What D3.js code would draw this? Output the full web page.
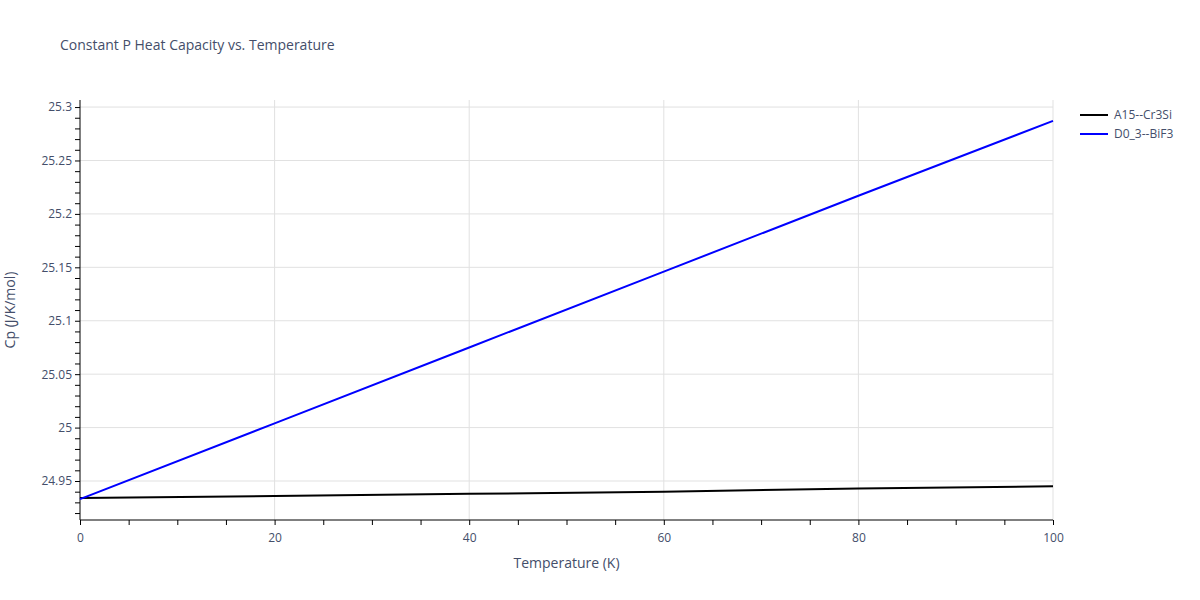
<!DOCTYPE html>
<meta charset="utf-8">
<body style="margin:0">
<svg width="1200" height="600"></svg>
<script src="https://cdnjs.cloudflare.com/ajax/libs/d3/7.8.5/d3.min.js"></script>
<script>
var temps = [0, 20, 40, 60, 80, 100];
var cr3si = [24.934, 24.936, 24.938, 24.940, 24.943, 24.945];
var bif3 = [24.933, 25.004, 25.075, 25.146, 25.217, 25.287];
var seriesNames = ["A15--Cr3Si", "D0_3--BiF3"];
var seriesColors = ["#000000", "#0000ff"];

var svg = d3.select("svg").style("font-family", "'Open Sans', sans-serif");
var m = {l: 80, r: 1053, t: 100, b: 520};
var x = d3.scaleLinear().domain([0, 100]).range([m.l, m.r]);
var y = d3.scaleLinear().domain([24.9135, 25.3066]).range([m.b, m.t]);
var txt = "#444e6a";

svg.append("rect").attr("width", 1200).attr("height", 600).attr("fill", "white");

// grid
svg.append("g").selectAll("line").data(d3.range(20, 101, 20)).enter().append("line")
    .attr("x1", d => x(d)).attr("x2", d => x(d)).attr("y1", m.t).attr("y2", m.b)
    .attr("stroke", "#e1e1e1");
var yt = [24.95, 25, 25.05, 25.1, 25.15, 25.2, 25.25, 25.3];
svg.append("g").selectAll("line").data(yt).enter().append("line")
    .attr("x1", m.l).attr("x2", m.r).attr("y1", d => y(d)).attr("y2", d => y(d))
    .attr("stroke", "#e1e1e1");

// axes
var xa = svg.append("g").attr("transform", `translate(0,${m.b})`)
    .call(d3.axisBottom(x).tickValues(d3.range(0, 101, 5)).tickSize(5).tickFormat(d => d % 20 ? "" : d));
var ya = svg.append("g").attr("transform", `translate(${m.l},0)`)
    .call(d3.axisLeft(y).tickValues(d3.range(24.92, 25.305, 0.01)).tickSize(5)
        .tickFormat(d => { var r = Math.round(d * 100); return r % 5 ? "" : d3.format("")(+d.toFixed(2)); }));
[xa, ya].forEach(a => {
    a.selectAll("path").attr("stroke", "#000");
    a.selectAll("line").attr("stroke", "#000");
    a.selectAll("text").attr("fill", txt).attr("font-size", 12).attr("font-family", "'Open Sans', sans-serif");
});
xa.selectAll("text").attr("dy", "1.2em");
xa.select("path").attr("d", `M${m.l},0H${m.r}`);
ya.select("path").attr("d", `M0,${m.b}V${m.t}`);

// lines
var line = d3.line().x((d, i) => x(temps[i])).y(d => y(d));
[cr3si, bif3].forEach((s, i) => {
    svg.append("path").attr("d", line(s)).attr("fill", "none")
        .attr("stroke", seriesColors[i]).attr("stroke-width", 2);
});

// titles
svg.append("text").attr("x", 60).attr("y", 50).text("Constant P Heat Capacity vs. Temperature")
    .attr("fill", txt).attr("font-size", 14);
svg.append("text").attr("x", (m.l + m.r) / 2).attr("y", 568).attr("text-anchor", "middle")
    .text("Temperature (K)").attr("fill", txt).attr("font-size", 14);
svg.append("text").attr("transform", `translate(15,${(m.t + m.b) / 2}) rotate(-90)`)
    .attr("text-anchor", "middle").text("Cp (J/K/mol)").attr("fill", txt).attr("font-size", 14);

// legend
var lg = svg.append("g").selectAll("g").data(seriesNames).enter().append("g")
    .attr("transform", (d, i) => `translate(1080,${115 + i * 19})`);
lg.append("line").attr("x1", 0).attr("x2", 28).attr("stroke", (d, i) => seriesColors[i]).attr("stroke-width", 2);
lg.append("text").attr("x", 34).attr("dy", "0.35em").text(d => d).attr("fill", txt).attr("font-size", 12);
</script>
</body>
